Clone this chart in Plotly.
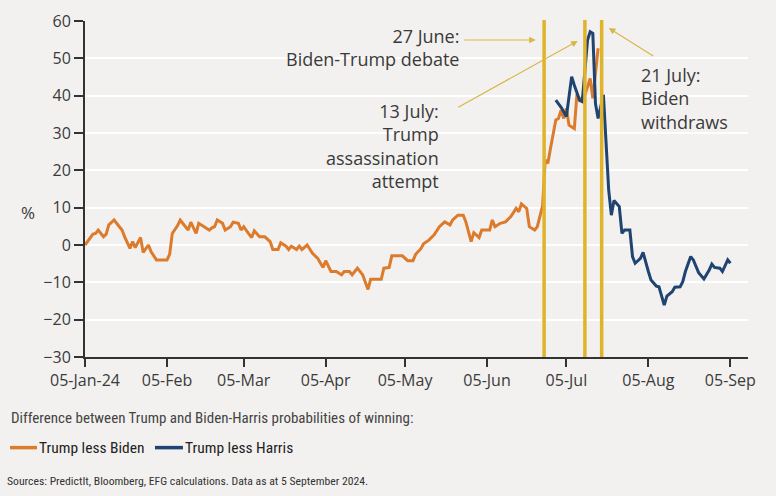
import plotly.graph_objects as go

# ---------------- data ----------------
biden_dates = [
    "2024-01-05", "2024-01-07", "2024-01-08", "2024-01-09", "2024-01-10", "2024-01-12", "2024-01-13",
    "2024-01-14", "2024-01-16", "2024-01-18", "2024-01-19", "2024-01-20", "2024-01-22", "2024-01-23",
    "2024-01-24", "2024-01-26", "2024-01-27", "2024-01-29", "2024-01-30", "2024-02-01", "2024-02-05",
    "2024-02-06", "2024-02-07", "2024-02-09", "2024-02-10", "2024-02-12", "2024-02-13", "2024-02-14",
    "2024-02-16", "2024-02-17", "2024-02-19", "2024-02-21", "2024-02-22", "2024-02-23", "2024-02-24",
    "2024-02-26", "2024-02-27", "2024-02-29", "2024-03-01", "2024-03-03", "2024-03-04", "2024-03-05",
    "2024-03-07", "2024-03-08", "2024-03-09", "2024-03-11", "2024-03-13", "2024-03-15", "2024-03-16",
    "2024-03-18", "2024-03-19", "2024-03-21", "2024-03-22", "2024-03-23", "2024-03-25", "2024-03-26",
    "2024-03-27", "2024-03-29", "2024-03-31", "2024-04-02", "2024-04-04", "2024-04-05", "2024-04-07",
    "2024-04-09", "2024-04-11", "2024-04-12", "2024-04-14", "2024-04-15", "2024-04-16", "2024-04-17",
    "2024-04-19", "2024-04-21", "2024-04-22", "2024-04-26", "2024-04-27", "2024-04-29", "2024-04-30",
    "2024-05-04", "2024-05-06", "2024-05-08", "2024-05-09", "2024-05-11", "2024-05-12", "2024-05-14",
    "2024-05-16", "2024-05-18", "2024-05-20", "2024-05-22", "2024-05-23", "2024-05-25", "2024-05-27",
    "2024-05-28", "2024-05-30", "2024-05-31", "2024-06-02", "2024-06-03", "2024-06-06", "2024-06-07",
    "2024-06-08", "2024-06-10", "2024-06-12", "2024-06-14", "2024-06-16", "2024-06-17", "2024-06-18",
    "2024-06-20", "2024-06-21", "2024-06-23", "2024-06-24", "2024-06-26", "2024-06-27", "2024-06-28",
    "2024-06-29", "2024-07-01", "2024-07-02", "2024-07-03", "2024-07-04", "2024-07-05", "2024-07-06",
    "2024-07-08", "2024-07-09", "2024-07-10", "2024-07-12", "2024-07-14", "2024-07-15", "2024-07-16",
    "2024-07-17",
]
biden_values = [
    0, 1.8, 2.9, 3.1, 4.0, 2.2, 2.9,
    5.4, 6.7, 4.9, 4.0, 2.2, -0.9, 0.9,
    -0.7, 2.0, -2.0, 0, -1.8, -4.0, -4.0,
    -2.5, 3.1, 5.2, 6.7, 4.9, 4.0, 6.1,
    3.1, 5.8, 4.9, 4.0, 4.6, 4.9, 6.7,
    5.8, 4.0, 4.9, 6.1, 5.8, 4.0, 4.9,
    2.9, 2.0, 3.8, 2.2, 2.2, 0.9, -1.2,
    -1.2, 0.6, -0.3, -1.2, -0.3, -1.2, -0.3,
    -1.2, 0, -2.2, -3.6, -6.0, -4.2, -7.1,
    -7.1, -8.0, -7.1, -7.1, -8.0, -7.1, -6.2,
    -8.0, -11.9, -9.2, -9.2, -6.2, -6.0, -2.9,
    -2.9, -4.2, -4.2, -2.5, -1.0, 0.3, 1.3,
    2.7, 4.9, 6.2, 5.4, 6.7, 8.0, 8.0,
    6.2, 0.9, 3.3, 2.0, 4.0, 4.0, 6.7,
    4.9, 5.8, 6.2, 7.6, 9.8, 8.9, 11.0,
    9.8, 4.9, 4.0, 4.9, 10.5, 22.8, 21.9,
    25.9, 33.5, 33.9, 36.1, 33.9, 36.6, 32.1,
    31.2, 40.4, 38.8, 40.2, 44.6, 39.3, 46.0,
    52.7,
]

harris_dates = [
    "2024-07-01", "2024-07-03", "2024-07-05", "2024-07-07", "2024-07-08", "2024-07-10", "2024-07-11",
    "2024-07-13", "2024-07-14", "2024-07-15", "2024-07-16", "2024-07-17", "2024-07-19", "2024-07-21",
    "2024-07-22", "2024-07-23", "2024-07-25", "2024-07-26", "2024-07-27", "2024-07-29", "2024-07-30",
    "2024-07-31", "2024-08-02", "2024-08-03", "2024-08-05", "2024-08-06", "2024-08-08", "2024-08-09",
    "2024-08-11", "2024-08-12", "2024-08-14", "2024-08-15", "2024-08-17", "2024-08-18", "2024-08-19",
    "2024-08-21", "2024-08-22", "2024-08-23", "2024-08-24", "2024-08-26", "2024-08-28", "2024-08-29",
    "2024-08-30", "2024-09-01", "2024-09-02", "2024-09-04", "2024-09-05",
]
harris_values = [
    38.8, 36.9, 34.4, 45.1, 42.8, 38.8, 38.4,
    54.9, 57.1, 56.7, 37.9, 33.9, 40.2, 14.7,
    8.0, 11.9, 10.3, 3.1, 4.0, 4.0, -3.1,
    -4.9, -3.6, -2.0, -7.1, -9.4, -11.0, -11.2,
    -16.1, -13.7, -12.5, -11.3, -11.2, -9.8, -7.1,
    -3.1, -4.0, -5.8, -7.4, -9.1, -6.7, -5.1,
    -6.0, -6.2, -7.1, -4.0, -4.9,
]

tick_dates = ["2024-01-05", "2024-02-05", "2024-03-05", "2024-04-05",
              "2024-05-05", "2024-06-05", "2024-07-05", "2024-08-05", "2024-09-05"]
tick_labels = ["05-Jan-24", "05-Feb", "05-Mar", "05-Apr", "05-May", "05-Jun", "05-Jul", "05-Aug", "05-Sep"]

event_dates = ["2024-06-26 14:00", "2024-07-12 00:00", "2024-07-18 08:00"]

series_names = ["Trump less Biden", "Trump less Harris"]

# ---------------- styles ----------------
BG = "#f2f1ef"
ORANGE = "#dc7b2c"
BLUE = "#1f4471"
GOLD = "#e0b42a"
ARROW = "#d9b747"
TXT = "#3a3a3a"
MAIN_FONT = "Open Sans"
NARROW = "Roboto Condensed, Roboto"

W_PLOT = 663.3
H_PLOT = 336.3
L, T = 85, 21


def px(xp):
    return (xp - L) / W_PLOT


def py(yp):
    return (T + H_PLOT - yp) / H_PLOT


fig = go.Figure()
fig.add_trace(go.Scatter(x=biden_dates, y=biden_values, mode="lines", name=series_names[0],
                         line=dict(color=ORANGE, width=3)))
fig.add_trace(go.Scatter(x=harris_dates, y=harris_values, mode="lines", name=series_names[1],
                         line=dict(color=BLUE, width=3)))

# zero line dotted
fig.add_shape(type="line", xref="paper", x0=0, x1=1, yref="y", y0=0, y1=0,
              line=dict(color="#333333", width=1.5, dash="2px,4px"), layer="between")

# event lines
for d in event_dates:
    fig.add_shape(type="line", xref="x", x0=d, x1=d, yref="paper", y0=0, y1=1.003,
                  line=dict(color=GOLD, width=3.5), layer="above")

# manual legend samples
for (x0, x1), col in zip([(10, 37), (155, 183)], [ORANGE, BLUE]):
    fig.add_shape(type="line", xref="paper", yref="paper", x0=px(x0), x1=px(x1),
                  y0=py(448), y1=py(448), line=dict(color=col, width=3.5))

annots = []
# arrows
for hx, hy, tx, ty in [(536, 40, 463, 40), (578, 41, 457, 108), (609, 28, 655, 57)]:
    annots.append(dict(xref="paper", yref="paper", x=px(hx), y=py(hy), ax=tx - hx, ay=ty - hy,
                       text="", showarrow=True, arrowhead=2, arrowsize=1.1, arrowwidth=1.2,
                       arrowcolor=ARROW, standoff=0))
# event text
annots.append(dict(xref="paper", yref="paper", x=px(461), y=py(22), xanchor="right", yanchor="top",
                   align="right", showarrow=False, text="27 June:<br>Biden-Trump debate",
                   font=dict(family=MAIN_FONT, size=18, color=TXT)))
annots.append(dict(xref="paper", yref="paper", x=px(441), y=py(97), xanchor="right", yanchor="top",
                   align="right", showarrow=False, text="13 July:<br>Trump<br>assassination<br>attempt",
                   font=dict(family=MAIN_FONT, size=18, color=TXT)))
annots.append(dict(xref="paper", yref="paper", x=px(639), y=py(61), xanchor="left", yanchor="top",
                   align="left", showarrow=False, text="21 July:<br>Biden<br>withdraws",
                   font=dict(family=MAIN_FONT, size=18, color=TXT)))
# % label
annots.append(dict(xref="paper", yref="paper", x=px(28), y=py(213), xanchor="center", yanchor="middle",
                   showarrow=False, text="%", font=dict(family=MAIN_FONT, size=17, color=TXT)))
# legend title and entries
annots.append(dict(xref="paper", yref="paper", x=px(9), y=py(418), xanchor="left", yanchor="middle",
                   showarrow=False,
                   text="Difference between Trump and Biden-Harris probabilities of winning:",
                   font=dict(family=NARROW, size=15, color="#444444")))
for xl, name in zip([37, 183], series_names):
    annots.append(dict(xref="paper", yref="paper", x=px(xl), y=py(448), xanchor="left", yanchor="middle",
                       showarrow=False, text=name,
                       font=dict(family=NARROW, size=15.5, color="#222222")))
# sources
annots.append(dict(xref="paper", yref="paper", x=px(5), y=py(481), xanchor="left", yanchor="middle",
                   showarrow=False,
                   text="Sources: PredictIt, Bloomberg, EFG calculations. Data as at 5 September 2024.",
                   font=dict(family=NARROW, size=11.7, color="#333333")))

fig.update_layout(
    width=776, height=496,
    margin=dict(l=L, r=776 - L - W_PLOT, t=T, b=496 - T - H_PLOT, pad=0, autoexpand=False),
    paper_bgcolor=BG, plot_bgcolor=BG,
    showlegend=False,
    annotations=annots,
    xaxis=dict(type="date", range=["2024-01-05", "2024-09-11 16:00"], automargin=False,
               tickmode="array", tickvals=tick_dates, ticktext=tick_labels,
               showgrid=False, zeroline=False, showline=True, linecolor="#333333", linewidth=2,
               ticks="outside", ticklen=8, tickwidth=2, tickcolor="#333333",
               tickfont=dict(family=MAIN_FONT, size=16, color=TXT)),
    yaxis=dict(range=[-30, 60], tickmode="linear", tick0=-30, dtick=10, automargin=False,
               showgrid=True, gridcolor="#ffffff", gridwidth=1.5, zeroline=False,
               showline=True, linecolor="#333333", linewidth=2,
               ticks="outside", ticklen=9, tickwidth=2, tickcolor="#333333",
               tickfont=dict(family=MAIN_FONT, size=16, color=TXT)),
)

fig.write_html("out.html")
